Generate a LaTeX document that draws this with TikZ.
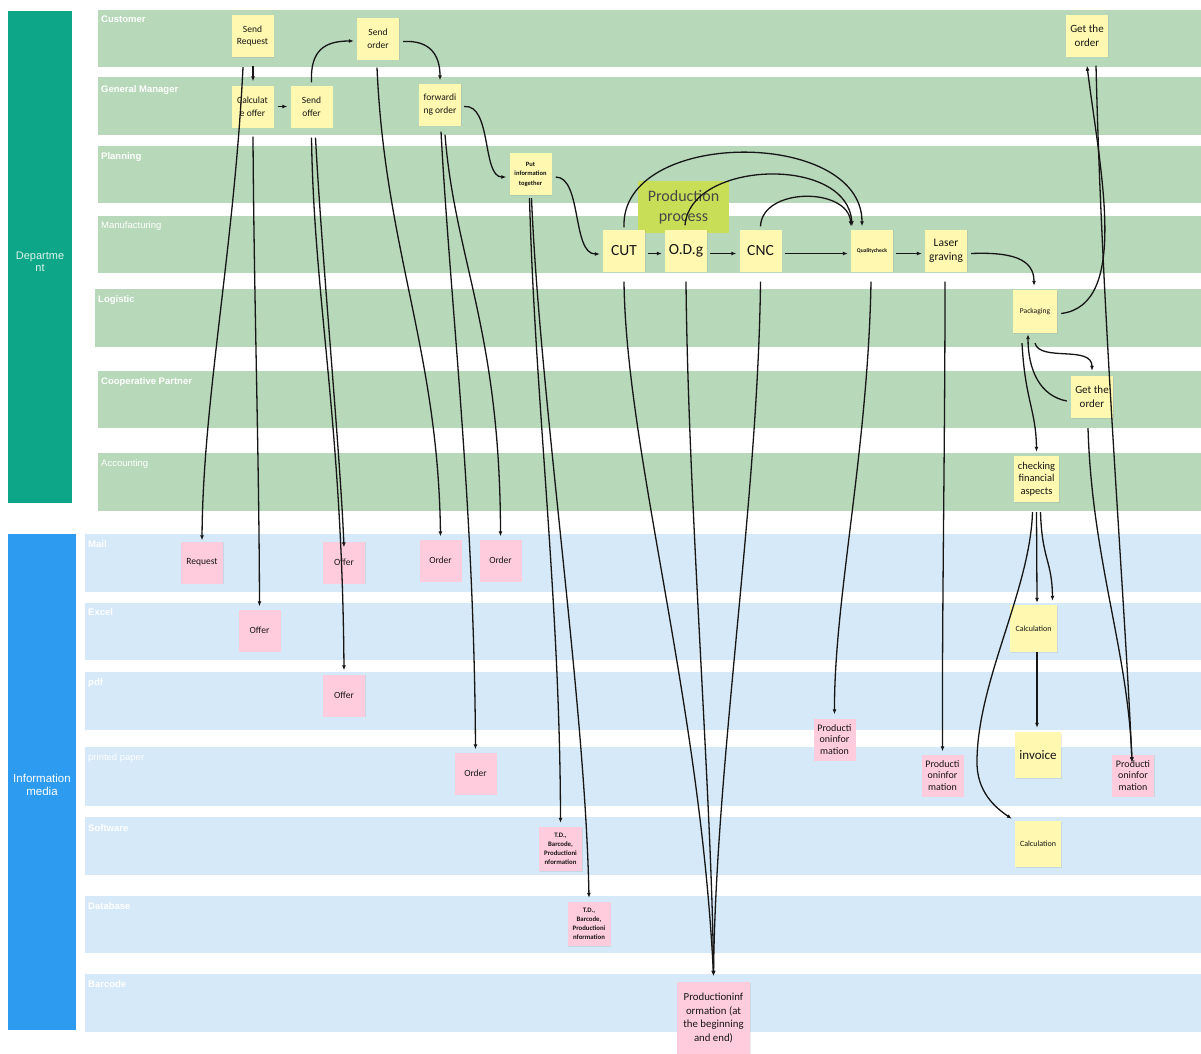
\documentclass[tikz,border=0pt]{standalone}
\usepackage{fontspec}
\setmainfont{Carlito}
\newfontfamily\lanefont{Liberation Sans}
\usetikzlibrary{arrows.meta,shadows}

\definecolor{deptgreen}{HTML}{0DA688}
\definecolor{mediablue}{HTML}{2D9BEF}
\definecolor{lanegreen}{HTML}{B7D8B9}
\definecolor{laneblue}{HTML}{D5E9F8}
\definecolor{notey}{HTML}{FFF8B0}
\definecolor{notep}{HTML}{FFCCDE}
\definecolor{procgreen}{HTML}{C8DE57}
\definecolor{ink}{HTML}{161616}
\definecolor{barlabel}{HTML}{DDF4EC}

\tikzset{
  lanelabel/.style={anchor=north west, inner sep=0pt, text=white,
    font=\lanefont\bfseries\fontsize{9.5}{11}\selectfont},
  barlabel/.style={align=center, inner sep=0pt, text=barlabel,
    font=\lanefont\fontsize{11}{12}\selectfont},
  note/.style={minimum width=42pt, minimum height=42pt, inner sep=0pt,
    align=center, text=ink, font=\fontsize{9.5}{12.5}\selectfont,
    drop shadow={shadow xshift=0.6pt, shadow yshift=-0.9pt, opacity=0.16}},
  ynote/.style={note, fill=notey},
  pnote/.style={note, fill=notep},
  bignote/.style={font=\fontsize{15.5}{18}\selectfont},
  tinynote/.style={font=\bfseries\fontsize{6.8}{8.9}\selectfont},
  prodinfo/.style={font=\fontsize{10}{11.5}\selectfont},
  getnote/.style={font=\fontsize{11}{14}\selectfont},
  conn/.style={draw=ink, line width=1.3pt, -{Latex[length=5pt,width=4pt]}}
}

\begin{document}
\begin{tikzpicture}[x=1pt,y=-1pt]
\useasboundingbox (0,0) rectangle (1201,1053);

% side bars
\fill[deptgreen] (8,11) rectangle (72,503);
\node[barlabel] (deptlabel) at (40,262) {Departme\\nt};
\fill[mediablue] (8,534) rectangle (76,1030);
\node[barlabel, font=\lanefont\fontsize{11.5}{13}\selectfont, text=white] (medialabel) at (42,785) {Information\\media};

% department lanes
\fill[lanegreen] (98,10) rectangle (1201,67);
\fill[lanegreen] (98,77) rectangle (1201,135);
\fill[lanegreen] (98,146) rectangle (1201,203);
\fill[lanegreen] (98,216) rectangle (1201,273);
\fill[lanegreen] (95,289) rectangle (1201,347);
\fill[lanegreen] (98,371) rectangle (1201,428);
\fill[lanegreen] (98,453) rectangle (1201,511);
\node[lanelabel] (lcust) at (101,16) {Customer};
\node[lanelabel] (lgm) at (101,85) {General Manager};
\node[lanelabel] (lplan) at (101,152) {Planning};
\node[lanelabel, font=\lanefont\fontsize{9.5}{11}\selectfont] (lman) at (101,221) {Manufacturing};
\node[lanelabel] (llog) at (98,295) {Logistic};
\node[lanelabel] (lcoop) at (101,377) {Cooperative Partner};
\node[lanelabel, font=\lanefont\fontsize{9.5}{11}\selectfont] (lacc) at (101,459) {Accounting};

% media lanes
\fill[laneblue] (85,534) rectangle (1201,592);
\fill[laneblue] (85,603) rectangle (1201,660);
\fill[laneblue] (85,672) rectangle (1201,730);
\fill[laneblue] (85,747) rectangle (1201,806);
\fill[laneblue] (85,817) rectangle (1201,875);
\fill[laneblue] (85,896) rectangle (1201,953);
\fill[laneblue] (85,974) rectangle (1201,1032);
\node[lanelabel] (lmail) at (88,540) {Mail};
\node[lanelabel] (lexcel) at (88,608) {Excel};
\node[lanelabel] (lpdf) at (88,678) {pdf};
\node[lanelabel, font=\lanefont\fontsize{9.5}{11}\selectfont] (lprint) at (88,753) {printed paper};
\node[lanelabel] (lsoft) at (88,824) {Software};
\node[lanelabel] (ldb) at (88,902) {Database};
\node[lanelabel] (lbar) at (88,980) {Barcode};

% production process tag
\node[fill=procgreen, minimum width=91pt, minimum height=52pt, inner sep=0pt,
      align=center, text=black!72, font=\fontsize{16}{20}\selectfont] (proc) at (683.5,207) {Production\\process};

% department notes
\node[ynote] (sreq) at (252.5,36) {Send\\Request};
\node[ynote] (calc) at (252.5,106.5) {Calculat\\e offer};
\node[ynote] (soffer) at (311.5,106.5) {Send\\offer};
\node[ynote] (sorder) at (378,38.5) {Send\\order};
\node[ynote] (fwd) at (440,104.5) {forwardi\\ng order};
\node[ynote, font=\bfseries\fontsize{6.5}{9.5}\selectfont] (put) at (530.5,174) {Put\\information\\together};
\node[ynote, bignote] (cut) at (624,250.5) {CUT};
\node[ynote, bignote] (odg) at (686,250.5) {O.D.g};
\node[ynote, bignote] (cnc) at (760.5,250.5) {CNC};
\node[ynote, font=\bfseries\fontsize{5.6}{7}\selectfont] (qc) at (872,250.5) {Qualitycheck};
\node[ynote, font=\fontsize{11.5}{14}\selectfont] (laser) at (946,250.5) {Laser\\graving};
\node[ynote, minimum width=44pt, minimum height=43pt, font=\fontsize{7.5}{9}\selectfont] (pack) at (1035,311.5) {Packaging};
\node[ynote, getnote] (goc) at (1087,35.5) {Get the\\order};
\node[ynote, getnote] (gop) at (1092,397) {Get the\\order};
\node[ynote, minimum width=45pt, minimum height=46pt, font=\fontsize{10.5}{12.7}\selectfont] (fin) at (1036.5,479) {checking\\financial\\aspects};

% media notes
\node[pnote] (req) at (202,562.5) {Request};
\node[pnote] (offm) at (344,562.5) {Offer};
\node[pnote] (offx) at (259.5,630.5) {Offer};
\node[pnote] (offp) at (344,695.5) {Offer};
\node[pnote] (ordm1) at (440.5,560.5) {Order};
\node[pnote] (ordm2) at (500.5,560.5) {Order};
\node[pnote] (ordp) at (475.5,773.5) {Order};
\node[ynote, minimum width=47pt, minimum height=47pt, font=\fontsize{8}{10}\selectfont] (calx) at (1033.5,628.5) {Calculation};
\node[ynote, minimum width=46pt, minimum height=46pt, font=\fontsize{13}{15}\selectfont] (inv) at (1038,755) {invoice};
\node[ynote, minimum width=46pt, minimum height=46pt, font=\fontsize{8}{10}\selectfont] (cals) at (1038,844) {Calculation};
\node[pnote, prodinfo] (pip) at (834.5,739.5) {Producti\\oninfor\\mation};
\node[pnote, prodinfo] (pil) at (942.5,775.5) {Producti\\oninfor\\mation};
\node[pnote, prodinfo] (pir) at (1133,775.5) {Producti\\oninfor\\mation};
\node[pnote, tinynote, minimum width=43pt, minimum height=44pt] (tds) at (560.5,849) {T.D.,\\Barcode,\\Productioni\\nformation};
\node[pnote, tinynote, minimum width=43pt, minimum height=44pt] (tdd) at (589,924) {T.D.,\\Barcode,\\Productioni\\nformation};
\node[pnote, minimum width=73pt, minimum height=72pt, font=\fontsize{10.8}{13.6}\selectfont] (pib) at (713.5,1018) {Productioninf\\ormation (at\\the beginning\\and end)};

% connectors: offer and order handling
\draw[conn] ([shift={(0.5,9)}]sreq.south) -- ([shift={(0.5,-4)}]calc.north);
\draw[conn] ([shift={(-9.5,10)}]sreq.south) .. controls (234,250) and (203,400) .. ([shift={(0,-1)}]req.north);
\draw[conn] ([shift={(4,0)}]calc.east) -- ([shift={(-3,0)}]soffer.west);
\draw[conn] ([shift={(0.5,9)}]calc.south) .. controls (254,300) and (259,450) .. ([shift={(0,-3)}]offx.north);
\draw[conn] ([shift={(0,-3)}]soffer.north) .. controls (310,50) and (325,41) .. ([shift={(-3,2.5)}]sorder.west);
\draw[conn] ([shift={(4,10)}]soffer.south) .. controls (322,260) and (340,450) .. ([shift={(0,6)}]offm.north);
\draw[conn] ([shift={(0,10)}]soffer.south) .. controls (314,300) and (342,420) .. ([shift={(0,-4)}]offp.north);
\draw[conn] ([shift={(4,3)}]sorder.east) .. controls (430,40) and (440,55) .. ([shift={(0,-3)}]fwd.north);
\draw[conn] ([shift={(-1,8)}]sorder.south) .. controls (385,250) and (438,350) .. ([shift={(0,-3)}]ordm1.north);
\draw[conn] ([shift={(3,2)}]fwd.east) .. controls (492,104) and (482,177) .. ([shift={(-3,3)}]put.west);
\draw[conn] ([shift={(1,6)}]fwd.south) .. controls (450,300) and (474,500) .. ([shift={(0,-3)}]ordp.north);
\draw[conn] ([shift={(5,9)}]fwd.south) .. controls (455,260) and (500,330) .. ([shift={(0,-3)}]ordm2.north);
\draw[conn] ([shift={(-1,3)}]put.south) .. controls (535,400) and (560,600) .. ([shift={(0,-4)}]tds.north);
\draw[conn] ([shift={(1,3)}]put.south) .. controls (540,400) and (585,700) .. ([shift={(0,-4)}]tdd.north);
\draw[conn] ([shift={(4,3)}]put.east) .. controls (582,177) and (572,254) .. ([shift={(-3,3.5)}]cut.west);

% connectors: production chain
\draw[conn] ([shift={(3,3)}]cut.east) -- ([shift={(-3,3)}]odg.west);
\draw[conn] ([shift={(3,3)}]odg.east) -- ([shift={(-3,3)}]cnc.west);
\draw[conn] ([shift={(3,3)}]cnc.east) -- ([shift={(-3,3)}]qc.west);
\draw[conn] ([shift={(3,3)}]qc.east) -- ([shift={(-3,3)}]laser.west);
\draw[conn] ([shift={(0,-2)}]cut.north) .. controls (620,128) and (862,128) .. ([shift={(-10,-3)}]qc.north);
\draw[conn] ([shift={(-1,-4)}]odg.north) .. controls (690,160) and (848,155) .. ([shift={(-20,-3)}]qc.north);
\draw[conn] ([shift={(0,-3)}]cnc.north) .. controls (762,187) and (848,187) .. ([shift={(-21,-3)}]qc.north);
\draw[conn] ([shift={(0,10)}]cut.south) .. controls (626,450) and (700,700) .. ([shift={(0,-6)}]pib.north);
\draw[conn] ([shift={(0,10)}]odg.south) .. controls (688,500) and (712,800) .. ([shift={(0,-6)}]pib.north);
\draw[conn] ([shift={(0,10)}]cnc.south) .. controls (758,500) and (716,760) .. ([shift={(0,-6)}]pib.north);
\draw[conn] ([shift={(-1,10)}]qc.south) .. controls (868,450) and (834,600) .. ([shift={(0,-4)}]pip.north);
\draw[conn] ([shift={(-1,10)}]laser.south) .. controls (945,450) and (942,600) .. ([shift={(0,-3)}]pil.north);
\draw[conn] ([shift={(4,3)}]laser.east) .. controls (1010,252) and (1034,258) .. ([shift={(-1,-4)}]pack.north);

% connectors: delivery and accounting
\draw[conn] ([shift={(4,2)}]pack.east) .. controls (1130,305) and (1100,170) .. ([shift={(0,9)}]goc.south);
\draw[conn] ([shift={(9,9)}]goc.south) .. controls (1102,320) and (1125,600) .. ([shift={(-1,8)}]pir.north);
\draw[conn] ([shift={(-4,10)}]gop.south) .. controls (1092,560) and (1128,650) .. ([shift={(-1,8)}]pir.north);
\draw[conn] ([shift={(0,10)}]pack.south) .. controls (1040,362) and (1092,345) .. ([shift={(0,-5)}]gop.north);
\draw[conn] ([shift={(-4,4)}]gop.west) .. controls (1040,396) and (1028,370) .. ([shift={(-7,1)}]pack.south);
\draw[conn] ([shift={(-13,10)}]pack.south) .. controls (1025,400) and (1036,410) .. ([shift={(0,-4)}]fin.north);
\draw[conn] ([shift={(0,10)}]fin.south) -- ([shift={(3.5,-2)}]calx.north);
\draw[conn] ([shift={(4,10)}]fin.south) .. controls (1042,560) and (1052,560) .. ([shift={(19,-4)}]calx.north);
\draw[conn] ([shift={(-4,10)}]fin.south) .. controls (1030,590) and (978,680) .. (977,760)
      .. controls (976,792) and (996,808) .. ([shift={(-3,-2)}]cals.north west);
\draw[conn] ([shift={(3.5,0)}]calx.south) -- ([shift={(-1,-4)}]inv.north);
\end{tikzpicture}
\end{document}
